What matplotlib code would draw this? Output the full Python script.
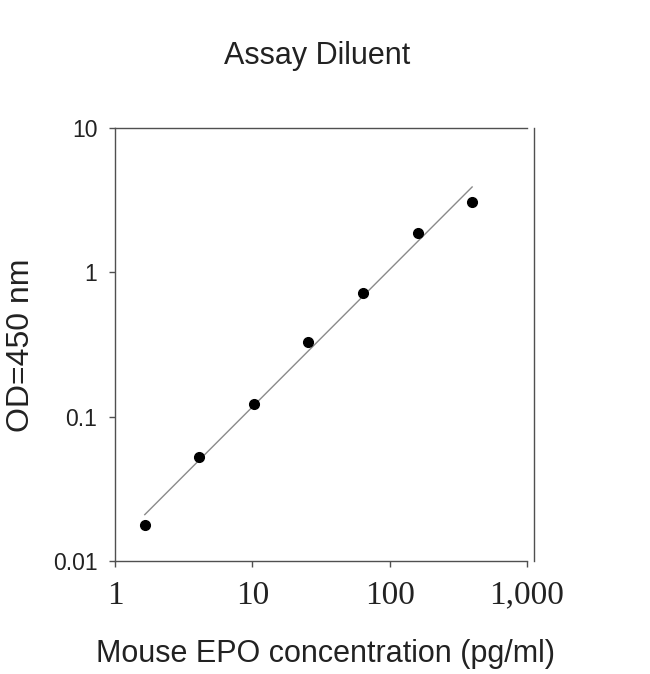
import numpy as np
import matplotlib
matplotlib.use("Agg")
import matplotlib.pyplot as plt
from matplotlib.ticker import FixedLocator, FixedFormatter, NullLocator

# standard curve values
conc = [1.64, 4.1, 10.24, 25.6, 64, 160, 400]
od = [0.0176, 0.0527, 0.122, 0.328, 0.724, 1.89, 3.07]

x_ticks = [1, 10, 100, 1000]
x_ticklabels = ["1", "10", "100", "1,000"]
y_ticks = [0.01, 0.1, 1, 10]
y_ticklabels = ["0.01", "0.1", "1", "10"]

# straight line fit in log-log space
slope, icpt = np.polyfit(np.log10(conc), np.log10(od), 1)
fit_x = np.array([conc[0], conc[-1]])
fit_y = 10 ** (icpt + slope * np.log10(fit_x))

fig = plt.figure(figsize=(6.5, 6.74), dpi=100)
ax = fig.add_axes([0.1774, 0.1681, 0.6329, 0.6416])

ax.plot(fit_x, fit_y, color="#8a8a8a", lw=1.0, zorder=2)
ax.plot(conc, od, "o", color="black", ms=7, zorder=3)

ax.set_xscale("log")
ax.set_yscale("log")
ax.set_xlim(1, 1000)
ax.set_ylim(0.01, 10)

ax.xaxis.set_major_locator(FixedLocator(x_ticks))
ax.xaxis.set_major_formatter(FixedFormatter(x_ticklabels))
ax.xaxis.set_minor_locator(NullLocator())
ax.yaxis.set_major_locator(FixedLocator(y_ticks))
ax.yaxis.set_major_formatter(FixedFormatter(y_ticklabels))
ax.yaxis.set_minor_locator(NullLocator())

spine_col = "#505050"
for s in ax.spines.values():
    s.set_color(spine_col)
    s.set_linewidth(1.0)
ax.spines["right"].set_position(("outward", 5))

ax.tick_params(axis="both", direction="out", length=4, width=1.0, color=spine_col)
ax.tick_params(axis="y", pad=9, labelsize=16.5, labelcolor="#222222")
ax.tick_params(axis="x", pad=10, labelsize=24, labelcolor="#222222")
for lab in ax.get_yticklabels():
    lab.set_fontfamily("Liberation Sans")
for lab in ax.get_xticklabels():
    lab.set_fontfamily("Liberation Serif")

fig.text(0.4885, 0.917, "Assay Diluent", ha="center", va="center",
         fontsize=22, family="Liberation Sans", color="#222222")
fig.text(0.50, 0.029, "Mouse EPO concentration (pg/ml)", ha="center", va="center",
         fontsize=22, family="Liberation Sans", color="#222222")
fig.text(0.033, 0.488, "OD=450 nm", ha="center", va="center", rotation=90,
         fontsize=23, family="Liberation Sans", color="#222222")

fig.savefig("out.png", dpi=100, facecolor="white")
